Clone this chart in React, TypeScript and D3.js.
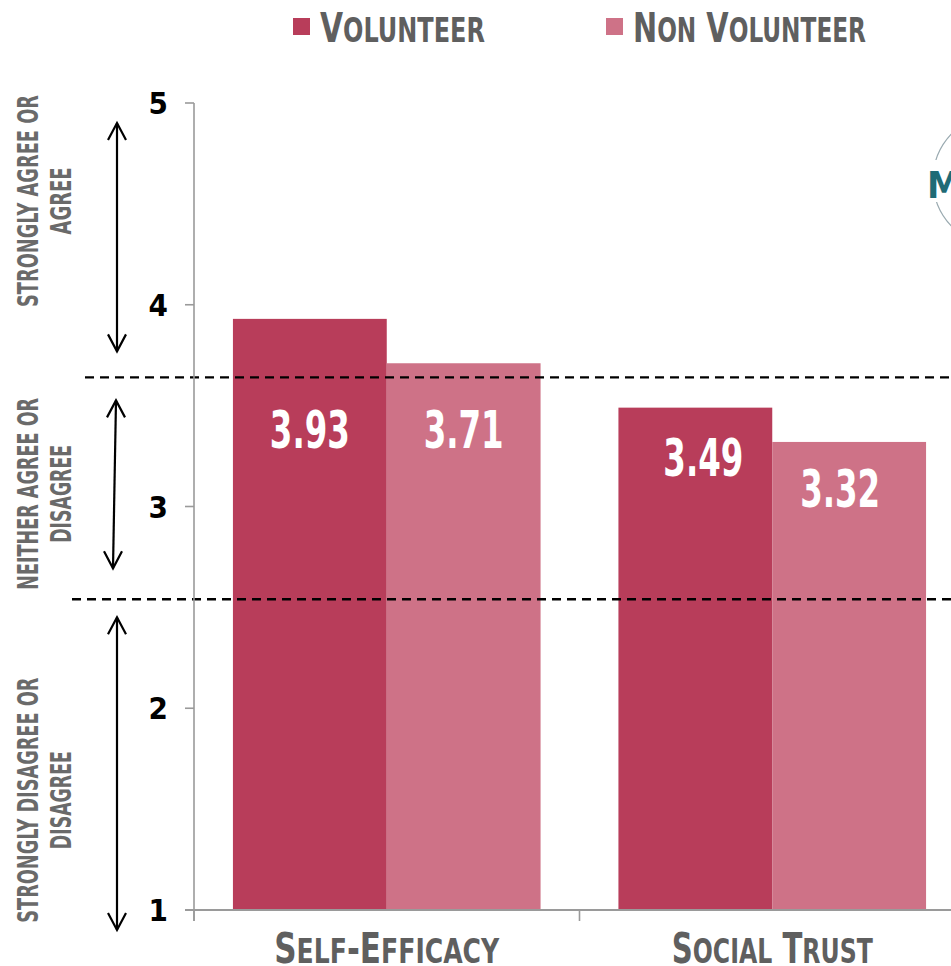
import React from "react";
import * as d3 from "d3";

// ---- data ----
const categories = ["Self-Efficacy", "Social Trust"];
const seriesNames = ["Volunteer", "Non Volunteer"];
const volunteerValues = [3.93, 3.49];
const nonVolunteerValues = [3.71, 3.32];
const yTicks = [1, 2, 3, 4, 5];
const bandCuts = [3.64, 2.54];
const bandLabels = [
  ["STRONGLY AGREE OR", "AGREE"],
  ["NEITHER AGREE OR", "DISAGREE"],
  ["STRONGLY DISAGREE OR", "DISAGREE"],
];

// ---- layout / style ----
const W = 951;
const H = 966;
const COLORS = ["#B83D5A", "#CE7287"];
const FONT = "'Liberation Sans Narrow', 'DejaVu Sans', 'Roboto', sans-serif";
const LABEL_DROP = [[129, 68], [85, 65]]; // [series][category] baseline drop from bar top
const LABEL_DX = [[0, 8], [0, -9]];

function SmallCaps({ text, x, y, big, small, fill, anchor = "middle", length }: any) {
  const runs: { t: string; big: boolean }[] = [];
  for (const ch of text) {
    const isBig = ch === ch.toUpperCase();
    const last = runs[runs.length - 1];
    if (last && last.big === isBig) last.t += ch.toUpperCase();
    else runs.push({ t: ch.toUpperCase(), big: isBig });
  }
  return (
    <text
      x={x}
      y={y}
      textAnchor={anchor}
      fill={fill}
      fontFamily={FONT}
      fontWeight="bold"
      style={{ fontStretch: "condensed" }}
      textLength={length}
      lengthAdjust="spacingAndGlyphs"
    >
      {runs.map((r, i) => (
        <tspan key={i} fontSize={r.big ? big : small}>
          {r.t}
        </tspan>
      ))}
    </text>
  );
}

export default function App() {
  const y = d3.scaleLinear().domain([1, 5]).range([910, 103]);
  const x0 = d3
    .scaleBand<string>()
    .domain(categories)
    .range([194, 965])
    .paddingInner(0.202)
    .paddingOuter(0.101);
  const x1 = d3.scaleBand<string>().domain(seriesNames).range([0, x0.bandwidth()]);
  const series = [volunteerValues, nonVolunteerValues];
  const step = x0.step();
  const axisX = 194;
  const base = y(1);

  const arrowX = 117;
  const arrows = [
    { y1: y(5) + 20, y2: y(bandCuts[0]) - 26, x1: arrowX, x2: arrowX },
    { y1: y(bandCuts[0]) + 23, y2: y(bandCuts[1]) - 31, x1: arrowX - 1, x2: arrowX - 4 },
    { y1: y(bandCuts[1]) + 18, y2: y(1) + 20, x1: arrowX, x2: arrowX },
  ];
  const labelCenters = [y(5) + 98, (y(bandCuts[0]) + y(bandCuts[1])) / 2 + 5.5, (y(bandCuts[1]) + y(1)) / 2 + 45.5];
  const labelLens = [[212, 67], [192, 98], [245, 98]];

  const head = (x: number, yy: number, dir: number) =>
    `M${x - 9},${yy + dir * 17} L${x},${yy} L${x + 9},${yy + dir * 17}`;

  return (
    <div style={{ position: "fixed", left: 0, top: 0, width: W, height: H, overflow: "hidden", background: "#fff" }}>
      <svg width={W} height={H} style={{ display: "block" }}>
        {/* legend */}
        {seriesNames.map((s, i) => {
          const lx = i === 0 ? 293 : 606;
          return (
            <g key={s}>
              <rect x={lx} y={18} width={17} height={17} fill={COLORS[i]} />
              <SmallCaps
                text={s}
                x={lx + 27}
                y={42}
                big={41}
                small={33}
                fill="#5f5f5f"
                anchor="start"
                length={i === 0 ? 165 : 233}
              />
            </g>
          );
        })}

        {/* logo fragment */}
        <circle cx={1000} cy={180} r={67} fill="none" stroke="#9aaab0" strokeWidth={1.2} />
        <rect x={926} y={160} width={30} height={42} fill="#fff" />
        <text x={927} y={198} fontFamily={FONT} fontWeight="bold" fontSize={38} fill="#1f6b76" style={{ fontStretch: "condensed" }}>
          MA
        </text>

        {/* bars */}
        {categories.map((c, ci) =>
          seriesNames.map((s, si) => {
            const v = series[si][ci];
            const bx = (x0(c) as number) + (x1(s) as number);
            const bw = x1.bandwidth();
            return (
              <g key={c + s}>
                <rect x={bx} y={y(v)} width={bw} height={base - y(v)} fill={COLORS[si]} />
                <text
                  x={bx + bw / 2 + LABEL_DX[si][ci]}
                  y={y(v) + LABEL_DROP[si][ci]}
                  textAnchor="middle"
                  fill="#fff"
                  fontFamily={FONT}
                  fontWeight="bold"
                  fontSize={52}
                  style={{ fontStretch: "condensed" }}
                  textLength={80}
                  lengthAdjust="spacingAndGlyphs"
                >
                  {v.toFixed(2)}
                </text>
              </g>
            );
          })
        )}

        {/* dashed cut lines */}
        {bandCuts.map((b, i) => (
          <line
            key={b}
            x1={i === 0 ? 85 : 72}
            x2={W}
            y1={y(b)}
            y2={y(b)}
            stroke="#000"
            strokeWidth={2.4}
            strokeDasharray="9 6"
          />
        ))}

        {/* y axis */}
        <line x1={axisX} x2={axisX} y1={y(5)} y2={base + 11} stroke="#9a9a9a" strokeWidth={1.6} />
        {yTicks.map((t) => (
          <g key={t}>
            <line x1={axisX - 9} x2={axisX} y1={y(t)} y2={y(t)} stroke="#9a9a9a" strokeWidth={1.6} />
            <text
              x={168}
              y={y(t) + 11}
              textAnchor="end"
              fontFamily={FONT}
              fontWeight="bold"
              fontSize={31}
              fill="#000"
              style={{ fontStretch: "condensed" }}
            >
              {t}
            </text>
          </g>
        ))}

        {/* x axis */}
        <line x1={axisX - 9} x2={W} y1={base} y2={base} stroke="#9a9a9a" strokeWidth={2} />
        {[0, 1, 2].map((k) => (
          <line key={k} x1={axisX + k * step} x2={axisX + k * step} y1={base} y2={base + 11} stroke="#9a9a9a" strokeWidth={1.6} />
        ))}
        {categories.map((c, i) => (
          <SmallCaps
            key={c}
            text={c}
            x={(x0(c) as number) + x0.bandwidth() / 2}
            y={963}
            big={42}
            small={34}
            fill="#5f5f5f"
            length={i === 0 ? 225 : 201}
          />
        ))}

        {/* arrows */}
        {arrows.map((a, i) => (
          <g key={i} stroke="#000" strokeWidth={2.2} fill="none">
            <line x1={a.x1} y1={a.y1} x2={a.x2} y2={a.y2} />
            <path d={head(a.x1, a.y1, 1)} />
            <path d={head(a.x2, a.y2, -1)} />
          </g>
        ))}

        {/* range labels */}
        {bandLabels.map((lines, i) => (
          <g key={i} transform={`translate(0, ${labelCenters[i]}) rotate(-90)`}>
            {lines.map((ln, j) => (
              <text
                key={j}
                x={0}
                y={j === 0 ? 38 : 71}
                textAnchor="middle"
                fontFamily={FONT}
                fontWeight="bold"
                fontSize={28}
                fill="#6a6a6a"
                style={{ fontStretch: "condensed" }}
                textLength={labelLens[i][j]}
                lengthAdjust="spacingAndGlyphs"
              >
                {ln}
              </text>
            ))}
          </g>
        ))}
      </svg>
    </div>
  );
}
